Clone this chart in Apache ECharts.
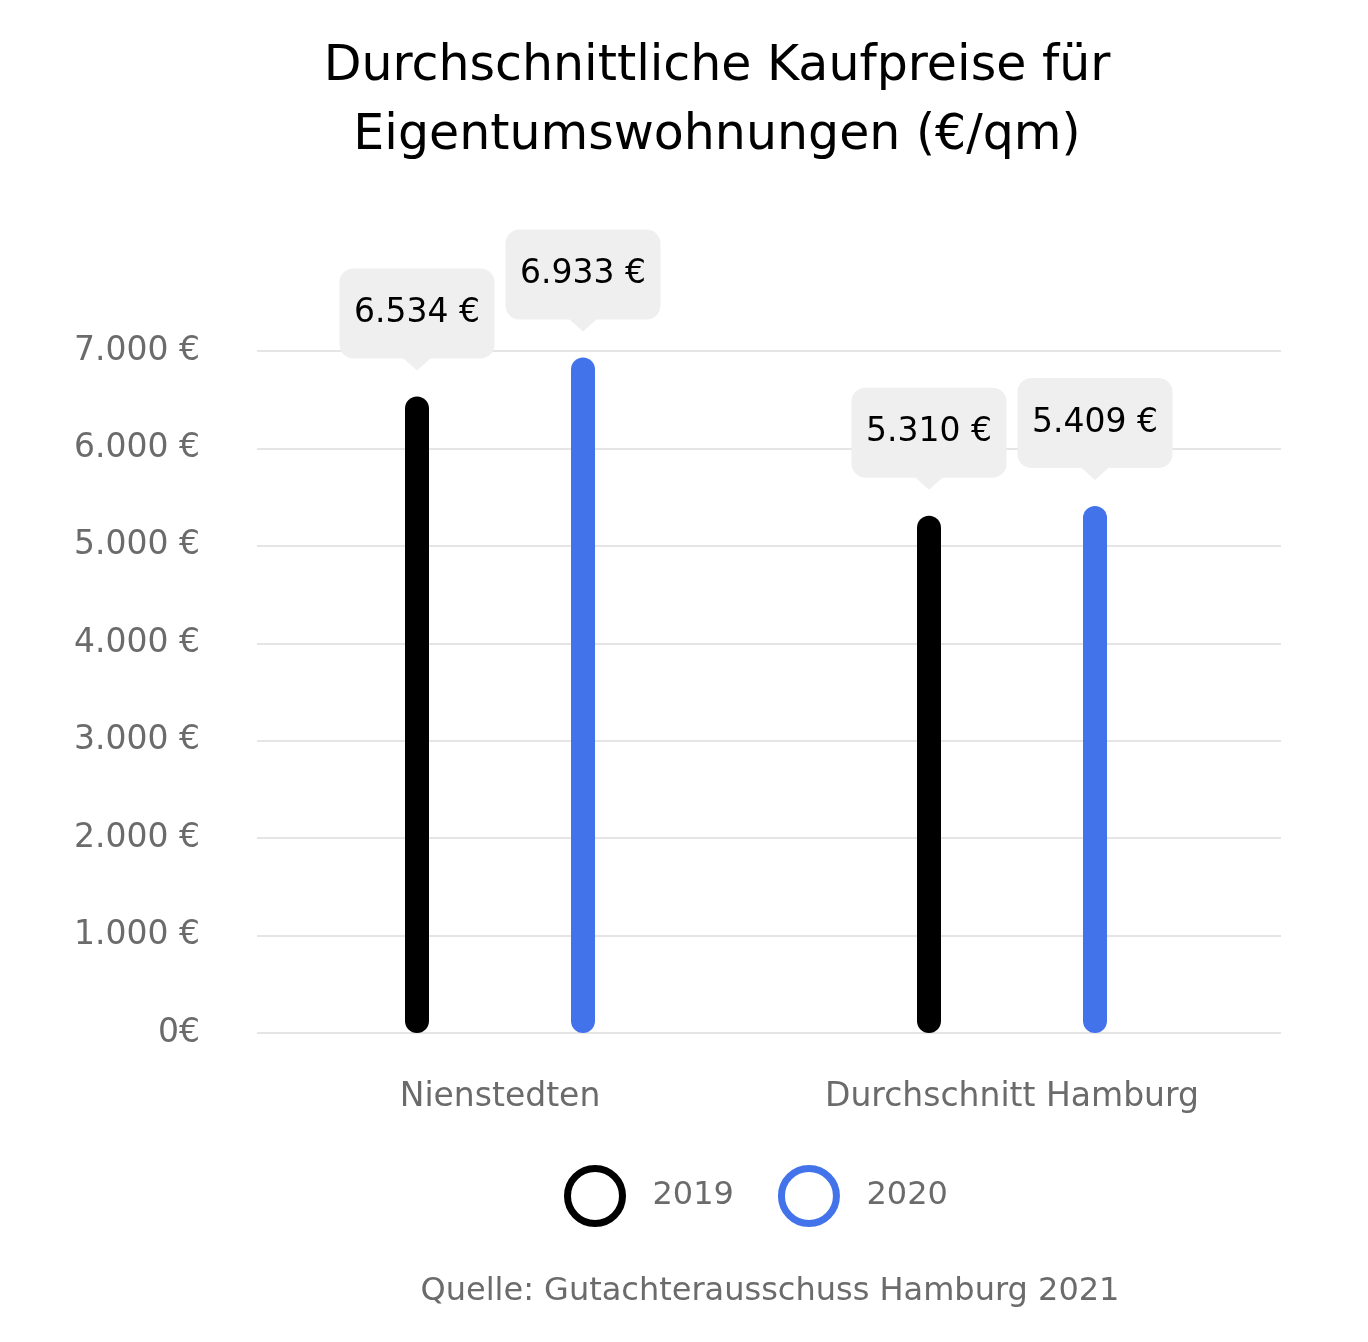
<!DOCTYPE html>
<html>
<head>
<meta charset="utf-8">
<script src="https://cdn.jsdelivr.net/npm/echarts@6/dist/echarts.min.js"></script>
<style>html,body{margin:0;padding:0;background:#fff}#c{width:1368px;height:1342px}</style>
</head>
<body>
<div id="c"></div>
<script>
const categories = ['Nienstedten', 'Durchschnitt Hamburg'];
const seriesNames = ['2019', '2020'];
const values2019 = [6534, 5310];
const values2020 = [6933, 5409];
const titleText = 'Durchschnittliche Kaufpreise für\nEigentumswohnungen (€/qm)';
const sourceText = 'Quelle: Gutachterausschuss Hamburg 2021';

const FONT = 'DejaVu Sans';
const colors = ['#000000', '#4273EA'];
const GRAY = '#6b6b6b';

function fmt(v) {
  return String(Math.round(v)).replace(/\B(?=(\d{3})+(?!\d))/g, '.');
}

const labelData = values2019.map((v, i) => [i, v, 0]).concat(values2020.map((v, i) => [i, v, 1]));

const BAR_W = 24, BAR_GAP = 142;
const BOX_W = 155, BOX_H = 90, TRI_W = 28, TRI_H = 12, TIP_GAP = 26;

function renderLabel(params, api) {
  const cat = api.value(0), val = api.value(1), s = api.value(2);
  const pt = api.coord([cat, val]);
  const off = (BAR_W + BAR_GAP) / 2;
  const x = pt[0] + (s === 0 ? -off : off);
  const tipY = pt[1] - TIP_GAP;
  const boxBottom = tipY - TRI_H;
  return {
    type: 'group',
    children: [
      { type: 'rect', shape: { x: x - BOX_W / 2, y: boxBottom - BOX_H, width: BOX_W, height: BOX_H, r: 14 }, style: { fill: '#efefef' } },
      { type: 'polygon', shape: { points: [[x - TRI_W / 2, boxBottom - 0.5], [x + TRI_W / 2, boxBottom - 0.5], [x, tipY]] }, style: { fill: '#efefef' } },
      { type: 'text', x: x, y: boxBottom - BOX_H / 2, style: { text: fmt(val) + ' €', align: 'center', verticalAlign: 'middle', fontSize: 33, fontFamily: FONT, fill: '#000' } }
    ]
  };
}

const chart = echarts.init(document.getElementById('c'));

chart.setOption({
  backgroundColor: '#fff',
  animation: false,
  graphic: [
    { type: 'text', x: 717, y: 102, style: { text: titleText, align: 'center', verticalAlign: 'middle', fontSize: 49, lineHeight: 69, fontFamily: FONT, fill: '#000' } },
    { type: 'text', x: 770, y: 1292, style: { text: sourceText, align: 'center', verticalAlign: 'middle', fontSize: 32, fontFamily: FONT, fill: GRAY } }
  ],
  legend: {
    data: [
      { name: seriesNames[0], itemStyle: { color: 'transparent', borderColor: colors[0], borderWidth: 7 } },
      { name: seriesNames[1], itemStyle: { color: 'transparent', borderColor: colors[1], borderWidth: 7 } }
    ],
    icon: 'circle',
    left: 559, top: 1160,
    itemWidth: 55, itemHeight: 55, itemGap: 44,
    textStyle: { fontSize: 32, color: GRAY, fontFamily: FONT, padding: [0, 0, 0, 25] }
  },
  grid: [
    { left: 257, right: 87, top: 351, bottom: 309 },
    { left: 244, right: 100, top: 351, bottom: 309 }
  ],
  xAxis: [
    { type: 'category', gridIndex: 0, data: categories, show: false },
    {
      type: 'category', gridIndex: 1, data: categories,
      axisLine: { show: false }, axisTick: { show: false },
      axisLabel: { margin: 48, fontSize: 33, color: GRAY, fontFamily: FONT }
    }
  ],
  yAxis: [
    {
      type: 'value', gridIndex: 0, min: 0, max: 7000, interval: 1000,
      axisLine: { show: false }, axisTick: { show: false },
      splitLine: { lineStyle: { color: '#e5e5e5', width: 2 } },
      axisLabel: { margin: 57, fontSize: 33, color: GRAY, fontFamily: FONT,
        formatter: v => v === 0 ? '0€' : fmt(v) + ' €' }
    },
    { type: 'value', gridIndex: 1, min: 0, max: 7000, interval: 1000, show: false, splitLine: { show: false } }
  ],
  series: [
    { name: seriesNames[0], type: 'bar', xAxisIndex: 1, yAxisIndex: 1, data: values2019, barWidth: BAR_W, barGap: (BAR_GAP / BAR_W * 100) + '%',
      itemStyle: { color: colors[0], borderRadius: 12 } },
    { name: seriesNames[1], type: 'bar', xAxisIndex: 1, yAxisIndex: 1, data: values2020, barWidth: BAR_W, barGap: (BAR_GAP / BAR_W * 100) + '%',
      itemStyle: { color: colors[1], borderRadius: 12 } },
    { name: 'Werte', type: 'custom', xAxisIndex: 1, yAxisIndex: 1, data: labelData, renderItem: renderLabel, z: 5, silent: true }
  ]
});
</script>
</body>
</html>
